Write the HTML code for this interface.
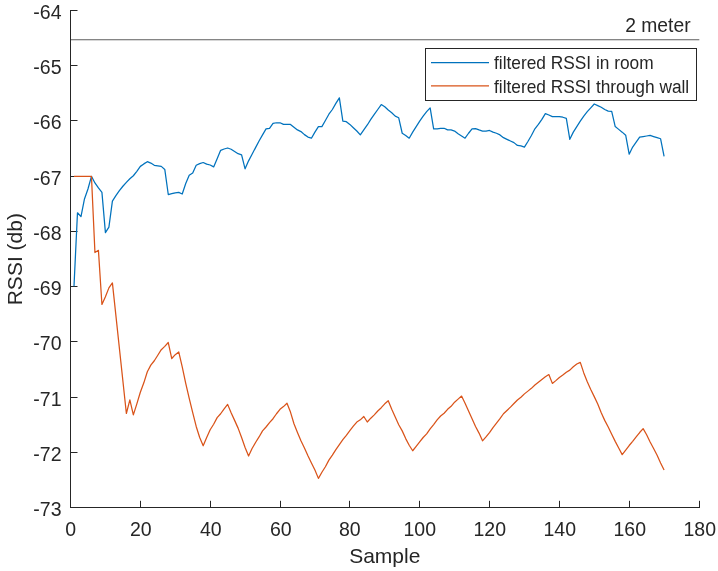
<!DOCTYPE html>
<html><head><meta charset="utf-8"><style>
html,body{margin:0;padding:0;background:#fff;}
body{width:718px;height:571px;overflow:hidden;}
svg{display:block;will-change:transform;}
text{font-family:"Liberation Sans",sans-serif;fill:#262626;}
</style></head><body>
<svg width="718" height="571" viewBox="0 0 718 571">
<line x1="70" y1="39.75" x2="699.3" y2="39.75" stroke="#5c5c5c" stroke-width="1.1"/>
<text transform="translate(690.6,32) scale(1,1.06)" text-anchor="end" font-size="19.3">2 meter</text>
<path d="M70.5,10 V507.5 H700" fill="none" stroke="#262626" stroke-width="1"/>
<line x1="70" y1="10.50" x2="77.5" y2="10.50" stroke="#262626" stroke-width="1"/>
<text x="61.5" y="18.80" text-anchor="end" font-size="19.5">-64</text>
<line x1="70" y1="65.50" x2="77.5" y2="65.50" stroke="#262626" stroke-width="1"/>
<text x="61.5" y="73.80" text-anchor="end" font-size="19.5">-65</text>
<line x1="70" y1="120.50" x2="77.5" y2="120.50" stroke="#262626" stroke-width="1"/>
<text x="61.5" y="128.80" text-anchor="end" font-size="19.5">-66</text>
<line x1="70" y1="176.50" x2="77.5" y2="176.50" stroke="#262626" stroke-width="1"/>
<text x="61.5" y="184.80" text-anchor="end" font-size="19.5">-67</text>
<line x1="70" y1="231.50" x2="77.5" y2="231.50" stroke="#262626" stroke-width="1"/>
<text x="61.5" y="239.80" text-anchor="end" font-size="19.5">-68</text>
<line x1="70" y1="286.50" x2="77.5" y2="286.50" stroke="#262626" stroke-width="1"/>
<text x="61.5" y="294.80" text-anchor="end" font-size="19.5">-69</text>
<line x1="70" y1="341.50" x2="77.5" y2="341.50" stroke="#262626" stroke-width="1"/>
<text x="61.5" y="349.80" text-anchor="end" font-size="19.5">-70</text>
<line x1="70" y1="397.50" x2="77.5" y2="397.50" stroke="#262626" stroke-width="1"/>
<text x="61.5" y="405.80" text-anchor="end" font-size="19.5">-71</text>
<line x1="70" y1="452.50" x2="77.5" y2="452.50" stroke="#262626" stroke-width="1"/>
<text x="61.5" y="460.80" text-anchor="end" font-size="19.5">-72</text>
<line x1="70" y1="507.50" x2="77.5" y2="507.50" stroke="#262626" stroke-width="1"/>
<text x="61.5" y="515.80" text-anchor="end" font-size="19.5">-73</text>
<line x1="70.50" y1="508" x2="70.50" y2="500.8" stroke="#262626" stroke-width="1"/>
<text x="70.80" y="536" text-anchor="middle" font-size="19.5">0</text>
<line x1="140.50" y1="508" x2="140.50" y2="500.8" stroke="#262626" stroke-width="1"/>
<text x="140.80" y="536" text-anchor="middle" font-size="19.5">20</text>
<line x1="210.50" y1="508" x2="210.50" y2="500.8" stroke="#262626" stroke-width="1"/>
<text x="210.80" y="536" text-anchor="middle" font-size="19.5">40</text>
<line x1="280.50" y1="508" x2="280.50" y2="500.8" stroke="#262626" stroke-width="1"/>
<text x="280.80" y="536" text-anchor="middle" font-size="19.5">60</text>
<line x1="349.50" y1="508" x2="349.50" y2="500.8" stroke="#262626" stroke-width="1"/>
<text x="349.80" y="536" text-anchor="middle" font-size="19.5">80</text>
<line x1="419.50" y1="508" x2="419.50" y2="500.8" stroke="#262626" stroke-width="1"/>
<text x="419.80" y="536" text-anchor="middle" font-size="19.5">100</text>
<line x1="489.50" y1="508" x2="489.50" y2="500.8" stroke="#262626" stroke-width="1"/>
<text x="489.80" y="536" text-anchor="middle" font-size="19.5">120</text>
<line x1="559.50" y1="508" x2="559.50" y2="500.8" stroke="#262626" stroke-width="1"/>
<text x="559.80" y="536" text-anchor="middle" font-size="19.5">140</text>
<line x1="629.50" y1="508" x2="629.50" y2="500.8" stroke="#262626" stroke-width="1"/>
<text x="629.80" y="536" text-anchor="middle" font-size="19.5">160</text>
<line x1="699.50" y1="508" x2="699.50" y2="500.8" stroke="#262626" stroke-width="1"/>
<text x="699.80" y="536" text-anchor="middle" font-size="19.5">180</text>
<text x="384.8" y="562.5" text-anchor="middle" font-size="21">Sample</text>
<text transform="translate(22.4,259.2) rotate(-90)" text-anchor="middle" font-size="21">RSSI (db)</text>
<path d="M73.99,286.20 L77.48,212.76 L80.98,216.62 L84.47,198.95 L87.96,189.01 L91.45,176.31 L94.94,182.94 L98.43,187.91 L101.93,192.33 L105.42,232.64 L108.91,227.11 L112.40,201.16 L115.89,195.64 L119.38,190.67 L122.88,186.25 L126.37,182.39 L129.86,178.80 L133.35,175.76 L136.84,171.34 L140.33,166.37 L143.83,163.89 L147.32,161.68 L150.81,163.06 L154.30,165.27 L157.79,165.82 L161.28,166.37 L164.78,169.41 L168.27,194.53 L171.76,193.71 L175.25,192.88 L178.74,192.33 L182.23,193.98 L185.73,183.49 L189.22,175.21 L192.71,173.00 L196.20,165.27 L199.69,163.61 L203.18,162.51 L206.68,164.16 L210.17,164.99 L213.66,166.92 L217.15,158.64 L220.64,150.36 L224.13,148.98 L227.63,147.98 L231.12,149.25 L234.61,151.46 L238.10,153.67 L241.59,154.78 L245.08,168.86 L248.58,160.85 L252.07,154.22 L255.56,147.60 L259.05,140.97 L262.54,134.90 L266.04,128.82 L269.53,128.27 L273.02,123.30 L276.51,122.75 L280.00,122.75 L283.49,124.41 L286.99,124.41 L290.48,124.41 L293.97,127.17 L297.46,129.93 L300.95,131.58 L304.44,134.62 L307.94,137.11 L311.43,138.21 L314.92,132.14 L318.41,126.61 L321.90,126.61 L325.39,120.54 L328.89,114.19 L332.38,109.50 L335.87,103.42 L339.36,97.90 L342.85,121.09 L346.34,121.64 L349.84,124.41 L353.33,127.72 L356.82,131.03 L360.31,134.90 L363.80,129.93 L367.29,124.96 L370.79,119.44 L374.28,114.47 L377.77,109.50 L381.26,104.53 L384.75,106.73 L388.24,110.05 L391.74,112.81 L395.23,116.12 L398.72,117.78 L402.21,133.24 L405.70,135.45 L409.19,138.21 L412.69,132.14 L416.18,126.61 L419.67,121.09 L423.16,116.12 L426.65,111.70 L430.15,107.84 L433.64,128.82 L437.13,128.82 L440.62,128.27 L444.11,128.27 L447.60,129.93 L451.10,129.93 L454.59,131.03 L458.08,133.79 L461.57,136.00 L465.06,138.21 L468.55,133.24 L472.05,128.82 L475.54,128.55 L479.03,129.93 L482.52,131.03 L486.01,131.03 L489.50,130.48 L493.00,132.14 L496.49,133.24 L499.98,134.90 L503.47,137.66 L506.96,139.31 L510.45,140.97 L513.95,142.63 L517.44,145.39 L520.93,145.94 L524.42,147.05 L527.91,141.52 L531.40,135.45 L534.90,128.82 L538.39,124.41 L541.88,119.44 L545.37,113.64 L548.86,115.02 L552.35,116.67 L555.85,116.67 L559.34,116.67 L562.83,117.23 L566.32,118.33 L569.81,139.31 L573.30,132.14 L576.80,126.61 L580.29,121.09 L583.78,116.12 L587.27,111.70 L590.76,107.84 L594.25,103.97 L597.75,105.63 L601.24,107.29 L604.73,109.50 L608.22,111.15 L611.71,111.43 L615.21,126.61 L618.70,129.38 L622.19,132.14 L625.68,135.17 L629.17,154.22 L632.66,147.05 L636.16,142.08 L639.65,137.11 L643.14,136.55 L646.63,136.00 L650.12,135.45 L653.61,136.55 L657.11,137.66 L660.60,138.76 L664.09,156.43" fill="none" stroke="#0072BD" stroke-width="1.25" stroke-linejoin="round"/>
<path d="M73.99,176.31 L77.48,176.31 L80.98,176.31 L84.47,176.31 L87.96,176.31 L91.45,176.31 L94.94,252.52 L98.43,250.31 L101.93,304.42 L105.42,296.69 L108.91,287.86 L112.40,282.89 L126.37,413.48 L129.86,399.95 L133.35,414.86 L136.84,403.82 L140.33,392.22 L143.83,382.84 L147.32,371.79 L150.81,365.16 L154.30,360.75 L157.79,355.23 L161.28,349.70 L164.78,346.39 L168.27,342.52 L171.76,358.54 L175.25,354.67 L178.74,351.91 L182.23,366.82 L185.73,383.39 L189.22,398.30 L192.71,412.65 L196.20,426.46 L199.69,437.50 L203.18,445.79 L206.68,437.50 L210.17,429.77 L213.66,424.25 L217.15,417.62 L220.64,413.76 L224.13,408.79 L227.63,404.37 L231.12,412.65 L234.61,420.38 L238.10,428.12 L241.59,437.50 L245.08,447.44 L248.58,456.00 L252.07,448.55 L255.56,442.47 L259.05,436.95 L262.54,430.88 L266.04,427.01 L269.53,422.59 L273.02,418.73 L276.51,413.76 L280.00,409.34 L283.49,406.58 L286.99,403.27 L290.48,412.10 L293.97,423.70 L297.46,432.53 L300.95,440.82 L304.44,447.99 L307.94,455.73 L311.43,462.90 L314.92,470.08 L318.41,478.37 L321.90,472.29 L325.39,466.77 L328.89,460.14 L332.38,455.17 L335.87,449.65 L339.36,444.68 L342.85,439.71 L346.34,435.29 L349.84,430.60 L353.33,426.18 L356.82,422.04 L360.31,419.83 L363.80,416.52 L367.29,422.04 L370.79,418.18 L374.28,414.86 L377.77,411.00 L381.26,407.68 L384.75,403.82 L388.24,400.78 L391.74,409.34 L395.23,417.07 L398.72,424.80 L402.21,430.88 L405.70,438.61 L409.19,445.23 L412.69,450.76 L416.18,446.34 L419.67,441.92 L423.16,437.50 L426.65,433.91 L430.15,428.94 L433.64,424.53 L437.13,419.83 L440.62,415.97 L444.11,413.21 L447.60,409.34 L451.10,406.30 L454.59,402.16 L458.08,399.12 L461.57,396.09 L465.06,403.27 L468.55,411.00 L472.05,418.73 L475.54,426.46 L479.03,433.09 L482.52,440.82 L486.01,436.95 L489.50,432.53 L493.00,427.56 L496.49,423.15 L499.98,418.73 L503.47,413.76 L506.96,410.44 L510.45,407.13 L513.95,403.54 L517.44,399.95 L520.93,397.19 L524.42,393.88 L527.91,391.12 L531.40,388.36 L534.90,385.04 L538.39,382.28 L541.88,379.52 L545.37,376.76 L548.86,374.55 L552.35,383.39 L555.85,380.63 L559.34,377.59 L562.83,375.10 L566.32,372.34 L569.81,370.13 L573.30,366.82 L576.80,364.06 L580.29,362.40 L583.78,372.90 L587.27,381.73 L590.76,389.46 L594.25,396.64 L597.75,404.09 L601.24,412.65 L604.73,420.38 L608.22,427.01 L611.71,434.19 L615.21,441.37 L618.70,447.99 L622.19,454.62 L625.68,450.20 L629.17,445.51 L632.66,441.37 L636.16,436.95 L639.65,432.53 L643.14,428.67 L646.63,434.74 L650.12,441.92 L653.61,448.55 L657.11,455.17 L660.60,462.90 L664.09,470.08" fill="none" stroke="#D95319" stroke-width="1.25" stroke-linejoin="round"/>
<rect x="425.5" y="48.5" width="271" height="52" fill="#fff" stroke="#262626" stroke-width="1"/>
<line x1="431" y1="62.5" x2="489" y2="62.5" stroke="#0072BD" stroke-width="1.25"/>
<line x1="431" y1="85.8" x2="489" y2="85.8" stroke="#D95319" stroke-width="1.25"/>
<text transform="translate(494,69.4) scale(0.995,1.06)" font-size="17.4">filtered RSSI in room</text>
<text transform="translate(494,93) scale(0.995,1.06)" font-size="17.4">filtered RSSI through wall</text>
</svg>
</body></html>
